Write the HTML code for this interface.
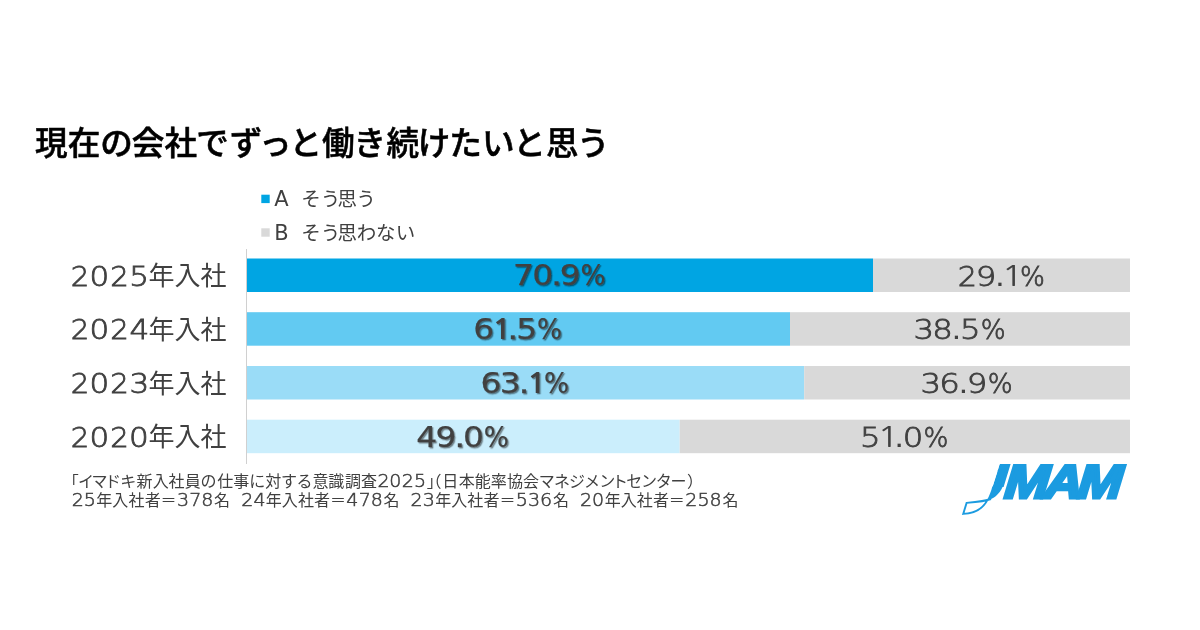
<!DOCTYPE html>
<html lang="ja">
<head>
<meta charset="utf-8">
<title>現在の会社でずっと働き続けたいと思う</title>
<style>
  html, body { margin: 0; padding: 0; background: #ffffff; }
  body { width: 1200px; height: 630px; overflow: hidden; }
  svg { display: block; }
  .jp  { font-family: "Liberation Sans", "Noto Sans CJK JP", sans-serif; }
  .num { font-family: "DejaVu Sans", "Liberation Sans", sans-serif; }
  .title { font-family: "Noto Sans CJK JP", "Liberation Sans", sans-serif; font-weight: 500; font-size: 32.6px; fill: #000; stroke: #000; stroke-width: 0.55px; }
  .cat  { font-size: 26px; fill: #404040; }
  .leg  { font-size: 19.5px; fill: #404040; }
  .lat  { font-size: 21px; fill: #404040; }
  .foot { font-size: 16px; fill: #404040; }
  .fd { font-size: 17.8px; font-weight: 200; stroke: #404040; stroke-width: 0.5px; }
  .valb { font-size: 27.9px; fill: #404040; stroke: #404040; stroke-width: 0.25px; stroke-linejoin: round; }
  .valr, .lt { font-size: 27.0px; font-weight: 200; fill: #404040; stroke: #404040; stroke-width: 0.8px; }
  .dot { font-weight: 400; stroke: none; }
  .l1  { font-family: "NanumGothic", "DejaVu Sans", sans-serif; font-weight: 400; font-size: 28.1px; stroke: none; }
  .l1b { font-family: "NanumGothic", "DejaVu Sans", sans-serif; font-weight: 700; font-size: 27.1px; stroke: none; }
  .logo { font-family: "Liberation Sans", sans-serif; font-weight: 700; font-style: italic; font-size: 47.1px; fill: #1b9be0; stroke: #1b9be0; stroke-width: 3px; stroke-linejoin: miter; stroke-miterlimit: 2.5; }
</style>
</head>
<body>
<svg width="1200" height="630" viewBox="0 0 1200 630">
  <defs>
    <filter id="sh" x="-10%" y="-20%" width="125%" height="150%">
      <feDropShadow dx="1.3" dy="1.3" stdDeviation="0.7" flood-color="#000000" flood-opacity="0.45"/>
    </filter>
  </defs>
  <rect x="0" y="0" width="1200" height="630" fill="#ffffff"/>

  <!-- title -->
  <text class="title" y="154.5" x="35.03 67.67 100.31 131.85 164.60 196.35 229.82 258.99 289.61 322.12 353.41 386.47 417.69 449.29 481.93 513.36 545.93 576.92">現在の会社でずっと働き続けたいと思う</text>

  <!-- legend -->
  <rect x="261.3" y="194.7" width="8.4" height="8.4" fill="#00a5e3"/>
  <text class="num lat" x="274.3" y="206.3">A</text>
  <text class="jp leg" y="206.3" x="301.20 320.78 337.55 356.28">そう思う</text>
  <rect x="261.3" y="228.3" width="8.4" height="8.4" fill="#d9d9d9"/>
  <text class="num lat" x="274.3" y="239.5">B</text>
  <text class="jp leg" y="239.5" x="301.20 320.78 337.45 356.86 376.05 395.65">そう思わない</text>

  <!-- bars -->
  <g>
    <rect x="247.0" y="258.5" width="626.0" height="33.5" fill="#00a5e3"/>
    <rect x="873.0" y="258.5" width="257.0" height="33.5" fill="#d9d9d9"/>
    <rect x="247.0" y="312.2" width="543.0" height="33.5" fill="#62caf2"/>
    <rect x="790.0" y="312.2" width="340.0" height="33.5" fill="#d9d9d9"/>
    <rect x="247.0" y="366.0" width="557.2" height="33.5" fill="#9adcf7"/>
    <rect x="804.2" y="366.0" width="325.8" height="33.5" fill="#d9d9d9"/>
    <rect x="247.0" y="419.7" width="432.7" height="33.5" fill="#cbeefc"/>
    <rect x="679.7" y="419.7" width="450.3" height="33.5" fill="#d9d9d9"/>
    <rect x="246" y="248.5" width="1" height="215" fill="#d0d0d0" shape-rendering="crispEdges"/>
  </g>

  <!-- category labels -->
  <g class="cat">
    <text y="285.55"><tspan class="num lt"><tspan x="70.82" textLength="18.55" lengthAdjust="spacingAndGlyphs">2</tspan><tspan x="89.58" textLength="19.75" lengthAdjust="spacingAndGlyphs">0</tspan><tspan x="110.32" textLength="18.55" lengthAdjust="spacingAndGlyphs">2</tspan><tspan x="129.22" textLength="19.75" lengthAdjust="spacingAndGlyphs">5</tspan></tspan><tspan class="jp" x="148.5" dy="-0.3">年入社</tspan></text>
    <text y="339.25"><tspan class="num lt"><tspan x="70.82" textLength="18.55" lengthAdjust="spacingAndGlyphs">2</tspan><tspan x="89.58" textLength="19.75" lengthAdjust="spacingAndGlyphs">0</tspan><tspan x="110.32" textLength="18.55" lengthAdjust="spacingAndGlyphs">2</tspan><tspan x="129.51" textLength="19.75" lengthAdjust="spacingAndGlyphs">4</tspan></tspan><tspan class="jp" x="148.5" dy="-0.3">年入社</tspan></text>
    <text y="393.05"><tspan class="num lt"><tspan x="70.82" textLength="18.55" lengthAdjust="spacingAndGlyphs">2</tspan><tspan x="89.58" textLength="19.75" lengthAdjust="spacingAndGlyphs">0</tspan><tspan x="110.32" textLength="18.55" lengthAdjust="spacingAndGlyphs">2</tspan><tspan x="129.47" textLength="19.75" lengthAdjust="spacingAndGlyphs">3</tspan></tspan><tspan class="jp" x="148.5" dy="-0.3">年入社</tspan></text>
    <text y="446.75"><tspan class="num lt"><tspan x="70.82" textLength="18.55" lengthAdjust="spacingAndGlyphs">2</tspan><tspan x="89.58" textLength="19.75" lengthAdjust="spacingAndGlyphs">0</tspan><tspan x="110.32" textLength="18.55" lengthAdjust="spacingAndGlyphs">2</tspan><tspan x="129.08" textLength="19.75" lengthAdjust="spacingAndGlyphs">0</tspan></tspan><tspan class="jp" x="148.5" dy="-0.3">年入社</tspan></text>
  </g>

  <!-- value labels -->
  <g class="num valb" filter="url(#sh)">
    <text y="285.45"><tspan x="512.96" textLength="20.95" lengthAdjust="spacingAndGlyphs">7</tspan><tspan x="532.21" textLength="20.95" lengthAdjust="spacingAndGlyphs">0</tspan><tspan x="550.90" textLength="11.09" lengthAdjust="spacingAndGlyphs">.</tspan><tspan x="559.82" textLength="20.95" lengthAdjust="spacingAndGlyphs">9</tspan><tspan x="580.52" textLength="25.11" lengthAdjust="spacingAndGlyphs">%</tspan></text>
    <text y="339.15"><tspan x="473.34" textLength="20.95" lengthAdjust="spacingAndGlyphs">6</tspan><tspan class="l1b" x="491.83" textLength="20.53" lengthAdjust="spacingAndGlyphs">1</tspan><tspan x="507.35" textLength="11.09" lengthAdjust="spacingAndGlyphs">.</tspan><tspan x="516.32" textLength="20.95" lengthAdjust="spacingAndGlyphs">5</tspan><tspan x="536.97" textLength="25.11" lengthAdjust="spacingAndGlyphs">%</tspan></text>
    <text y="392.95"><tspan x="480.40" textLength="20.95" lengthAdjust="spacingAndGlyphs">6</tspan><tspan x="499.88" textLength="20.95" lengthAdjust="spacingAndGlyphs">3</tspan><tspan x="518.51" textLength="11.09" lengthAdjust="spacingAndGlyphs">.</tspan><tspan class="l1b" x="526.40" textLength="20.53" lengthAdjust="spacingAndGlyphs">1</tspan><tspan x="544.03" textLength="25.11" lengthAdjust="spacingAndGlyphs">%</tspan></text>
    <text y="446.65"><tspan x="416.33" textLength="20.95" lengthAdjust="spacingAndGlyphs">4</tspan><tspan x="435.63" textLength="20.95" lengthAdjust="spacingAndGlyphs">9</tspan><tspan x="454.21" textLength="11.09" lengthAdjust="spacingAndGlyphs">.</tspan><tspan x="463.02" textLength="20.95" lengthAdjust="spacingAndGlyphs">0</tspan><tspan x="483.83" textLength="25.11" lengthAdjust="spacingAndGlyphs">%</tspan></text>
  </g>
  <g class="num valr">
    <text y="285.55"><tspan x="957.77" textLength="19.24" lengthAdjust="spacingAndGlyphs">2</tspan><tspan x="975.75" textLength="20.61" lengthAdjust="spacingAndGlyphs">9</tspan><tspan class="dot" x="995.05" textLength="9.87" lengthAdjust="spacingAndGlyphs">.</tspan><tspan class="l1" x="1001.19" textLength="22.48" lengthAdjust="spacingAndGlyphs">1</tspan><tspan x="1020.09" textLength="24.89" lengthAdjust="spacingAndGlyphs">%</tspan></text>
    <text y="339.25"><tspan x="913.53" textLength="20.61" lengthAdjust="spacingAndGlyphs">3</tspan><tspan x="932.37" textLength="20.61" lengthAdjust="spacingAndGlyphs">8</tspan><tspan class="dot" x="951.50" textLength="9.87" lengthAdjust="spacingAndGlyphs">.</tspan><tspan x="960.07" textLength="20.61" lengthAdjust="spacingAndGlyphs">5</tspan><tspan x="980.64" textLength="24.89" lengthAdjust="spacingAndGlyphs">%</tspan></text>
    <text y="393.05"><tspan x="920.60" textLength="20.61" lengthAdjust="spacingAndGlyphs">3</tspan><tspan x="939.26" textLength="20.61" lengthAdjust="spacingAndGlyphs">6</tspan><tspan class="dot" x="958.57" textLength="9.87" lengthAdjust="spacingAndGlyphs">.</tspan><tspan x="966.76" textLength="20.61" lengthAdjust="spacingAndGlyphs">9</tspan><tspan x="987.71" textLength="24.89" lengthAdjust="spacingAndGlyphs">%</tspan></text>
    <text y="446.75"><tspan x="860.13" textLength="20.61" lengthAdjust="spacingAndGlyphs">5</tspan><tspan class="l1" x="877.00" textLength="22.48" lengthAdjust="spacingAndGlyphs">1</tspan><tspan class="dot" x="894.27" textLength="9.87" lengthAdjust="spacingAndGlyphs">.</tspan><tspan x="902.68" textLength="20.61" lengthAdjust="spacingAndGlyphs">0</tspan><tspan x="923.40" textLength="24.89" lengthAdjust="spacingAndGlyphs">%</tspan></text>
  </g>

  <!-- footnote -->
  <text class="jp foot"><tspan x="62.77 77.96 91.44 104.96 120.36 136.55 152.63 168.56 184.84 200.58 217.15 233.23 249.32 265.37 280.95 296.46 312.38 328.35 344.96 360.90" y="488.10 486.70 486.70 486.70 486.70 486.70 486.70 486.70 486.70 486.70 486.70 486.70 486.70 486.70 486.70 486.70 486.70 486.70 486.70 486.70">「イマドキ新入社員の仕事に対する意識調査</tspan><tspan class="num fd"><tspan y="487.30" x="377.53" textLength="12.12" lengthAdjust="spacingAndGlyphs">2</tspan><tspan y="487.30" x="389.37" textLength="12.12" lengthAdjust="spacingAndGlyphs">0</tspan><tspan y="487.30" x="401.73" textLength="12.12" lengthAdjust="spacingAndGlyphs">2</tspan><tspan y="487.30" x="414.11" textLength="12.12" lengthAdjust="spacingAndGlyphs">5</tspan></tspan><tspan x="426.68 425.46 442.29 458.63 474.64 490.82 507.00 522.95 538.69 553.96 568.91 584.00 599.14 611.99 626.33 640.94 655.68 670.51 686.94" y="487.30 486.70 486.70 486.70 486.70 486.70 486.70 486.70 486.70 486.70 486.70 486.70 486.70 486.70 486.70 486.70 486.70 486.70 486.70">」（日本能率協会マネジメントセンター）</tspan></text>
  <text class="jp foot"><tspan class="num fd"><tspan y="506.40" x="71.73" textLength="12.12" lengthAdjust="spacingAndGlyphs">2</tspan><tspan y="506.40" x="83.81" textLength="12.12" lengthAdjust="spacingAndGlyphs">5</tspan></tspan><tspan x="96.28 112.33 128.46 144.63 160.50" y="505.80">年入社者＝</tspan><tspan class="num fd"><tspan y="506.40" x="176.92" textLength="12.12" lengthAdjust="spacingAndGlyphs">3</tspan><tspan y="506.40" x="189.22" textLength="12.12" lengthAdjust="spacingAndGlyphs">7</tspan><tspan y="506.40" x="201.25" textLength="12.12" lengthAdjust="spacingAndGlyphs">8</tspan></tspan><tspan x="214.03" y="505.80">名</tspan><tspan>  </tspan><tspan class="num fd"><tspan y="506.40" x="241.18" textLength="12.12" lengthAdjust="spacingAndGlyphs">2</tspan><tspan y="506.40" x="253.44" textLength="12.12" lengthAdjust="spacingAndGlyphs">4</tspan></tspan><tspan x="265.73 281.78 297.91 314.08 329.95" y="505.80">年入社者＝</tspan><tspan class="num fd"><tspan y="506.40" x="346.39" textLength="12.12" lengthAdjust="spacingAndGlyphs">4</tspan><tspan y="506.40" x="358.67" textLength="12.12" lengthAdjust="spacingAndGlyphs">7</tspan><tspan y="506.40" x="370.70" textLength="12.12" lengthAdjust="spacingAndGlyphs">8</tspan></tspan><tspan x="383.48" y="505.80">名</tspan><tspan>  </tspan><tspan class="num fd"><tspan y="506.40" x="410.63" textLength="12.12" lengthAdjust="spacingAndGlyphs">2</tspan><tspan y="506.40" x="422.87" textLength="12.12" lengthAdjust="spacingAndGlyphs">3</tspan></tspan><tspan x="435.18 451.23 467.36 483.53 499.40" y="505.80">年入社者＝</tspan><tspan class="num fd"><tspan y="506.40" x="515.66" textLength="12.12" lengthAdjust="spacingAndGlyphs">5</tspan><tspan y="506.40" x="528.12" textLength="12.12" lengthAdjust="spacingAndGlyphs">3</tspan><tspan y="506.40" x="540.04" textLength="12.12" lengthAdjust="spacingAndGlyphs">6</tspan></tspan><tspan x="552.93" y="505.80">名</tspan><tspan>  </tspan><tspan class="num fd"><tspan y="506.40" x="580.08" textLength="12.12" lengthAdjust="spacingAndGlyphs">2</tspan><tspan y="506.40" x="592.07" textLength="12.12" lengthAdjust="spacingAndGlyphs">0</tspan></tspan><tspan x="604.63 620.68 636.81 652.98 668.85" y="505.80">年入社者＝</tspan><tspan class="num fd"><tspan y="506.40" x="685.28" textLength="12.12" lengthAdjust="spacingAndGlyphs">2</tspan><tspan y="506.40" x="697.41" textLength="12.12" lengthAdjust="spacingAndGlyphs">5</tspan><tspan y="506.40" x="709.60" textLength="12.12" lengthAdjust="spacingAndGlyphs">8</tspan></tspan><tspan x="722.38" y="505.80">名</tspan></text>

  <!-- logo -->
  <defs>
    <clipPath id="jclip"><path d="M1001.3 460 L1140 460 L1140 520 L994 520 L1004.2 487 L992.4 487 Z"/></clipPath>
  </defs>
  <g fill="#1b9be0">
    <g clip-path="url(#jclip)">
      <text class="logo" transform="translate(-2.5,498.25) skewX(-4.8) scale(1.127,1)" x="867.5 892.9 928.2 957.9" y="0">JMAM</text>
    </g>
    <path d="M992.3 486.5 C991.2 491 989.6 495.6 986.6 500.7 C990 499.9 993.5 498.2 996 496 C998.6 493.7 1001 490.6 1002.8 486.5 Z"/>
    <path d="M991 499 C987 500.6 977 502 966.6 502.9 L963.2 513.9 C973.6 513.6 983 508.6 987.8 499.4" fill="none" stroke="#1b9be0" stroke-width="1.9" stroke-linejoin="miter" stroke-miterlimit="8"/>
  </g>
</svg>
</body>
</html>
